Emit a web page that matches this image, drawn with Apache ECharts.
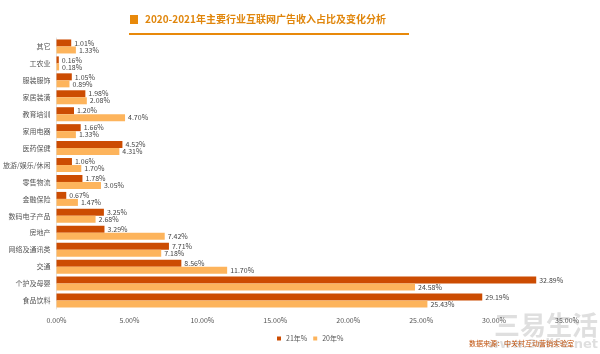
<!DOCTYPE html>
<html>
<head>
<meta charset="utf-8">
<script src="https://cdn.jsdelivr.net/npm/echarts@6/dist/echarts.min.js"></script>
<style>
    html, body { margin: 0; padding: 0; background: #fff; }
    #main { width: 600px; height: 354px; }
</style>
</head>
<body>
<div id="main"></div>
<script>
'use strict';

var categories = ['其它', '工农业', '服装服饰', '家居装潢', '教育培训', '家用电器', '医药保健', '旅游/娱乐/休闲',
    '零售物流', '金融保险', '数码电子产品', '房地产', '网络及通讯类', '交通', '个护及母婴', '食品饮料'];
var share21 = [1.01, 0.16, 1.05, 1.98, 1.20, 1.66, 4.52, 1.06, 1.78, 0.67, 3.25, 3.29, 7.71, 8.56, 32.89, 29.19];
var share20 = [1.33, 0.18, 0.89, 2.08, 4.70, 1.33, 4.31, 1.70, 3.05, 1.47, 2.68, 7.42, 7.18, 11.70, 24.58, 25.43];
var xTicks = [0, 5, 10, 15, 20, 25, 30, 35];

var titleText = '2020-2021年主要行业互联网广告收入占比及变化分析';
var sourceText = '数据来源：中关村互动营销实验室';

var myChart = echarts.init(document.getElementById('main'));

function pct(v) {
    return Number(v).toFixed(2) + '%';
}

var barLabel = {
    show: true,
    position: 'right',
    distance: 3,
    fontSize: 7,
    color: '#444',
    formatter: function(p) { return pct(p.value); }
};

var option = {
    backgroundColor: '#fff',
    textStyle: { fontFamily: '"Noto Sans CJK SC", "Noto Sans", sans-serif' },
    animation: false,
    graphic: [
        // title marker + underline
        { type: 'rect', left: 130, top: 15, shape: { width: 8, height: 9 }, style: { fill: '#E8890A' } },
        { type: 'text', left: 145, top: 14, style: {
            text: titleText, fill: '#E0860C', font: 'bold 10px "Noto Sans CJK SC", sans-serif' } },
        { type: 'rect', left: 129, top: 33, shape: { width: 280, height: 2 }, style: { fill: '#E8890A' } },
        // watermark
        { type: 'text', right: 2, top: 312, style: {
            text: '三易生活', fill: 'rgba(150,150,150,0.3)', font: 'bold 26px "Noto Sans CJK SC", sans-serif' } },
        { type: 'text', right: 2, top: 338, style: {
            text: 'www.3elife.net', fill: 'rgba(150,150,150,0.3)', font: 'bold 13px "DejaVu Sans", sans-serif' } },
        { type: 'text', left: 469, top: 340, style: {
            text: sourceText, fill: '#C0500A', font: '7px "Noto Sans CJK SC", sans-serif' } }
    ],
    legend: {
        data: ['21年%', '20年%'],
        left: 272,
        top: 330,
        itemWidth: 4,
        itemHeight: 4,
        itemGap: 6,
        icon: 'rect',
        textStyle: { fontSize: 7, color: '#555' }
    },
    grid: {
        left: 53,
        right: 33,
        top: 38,
        bottom: 45,
        containLabel: false
    },
    xAxis: {
        type: 'value',
        min: xTicks[0],
        max: xTicks[xTicks.length - 1],
        interval: 5,
        axisLine: { show: false },
        axisTick: { show: false },
        splitLine: { show: false },
        axisLabel: {
            fontSize: 7,
            color: '#555',
            margin: 8,
            formatter: function(v) { return pct(v); }
        }
    },
    yAxis: {
        type: 'category',
        data: categories,
        inverse: true,
        axisLine: { show: true, lineStyle: { color: '#e4e4e4' } },
        axisTick: { show: false },
        axisLabel: { fontSize: 7, color: '#555', margin: 6 }
    },
    series: [{
        name: '21年%',
        type: 'bar',
        data: share21,
        barWidth: 7,
        barGap: '0%',
        itemStyle: { color: '#CC4C02' },
        label: barLabel
    }, {
        name: '20年%',
        type: 'bar',
        data: share20,
        barWidth: 7,
        itemStyle: { color: '#FDB45C' },
        label: barLabel
    }]
};

myChart.setOption(option);
</script>
</body>
</html>
